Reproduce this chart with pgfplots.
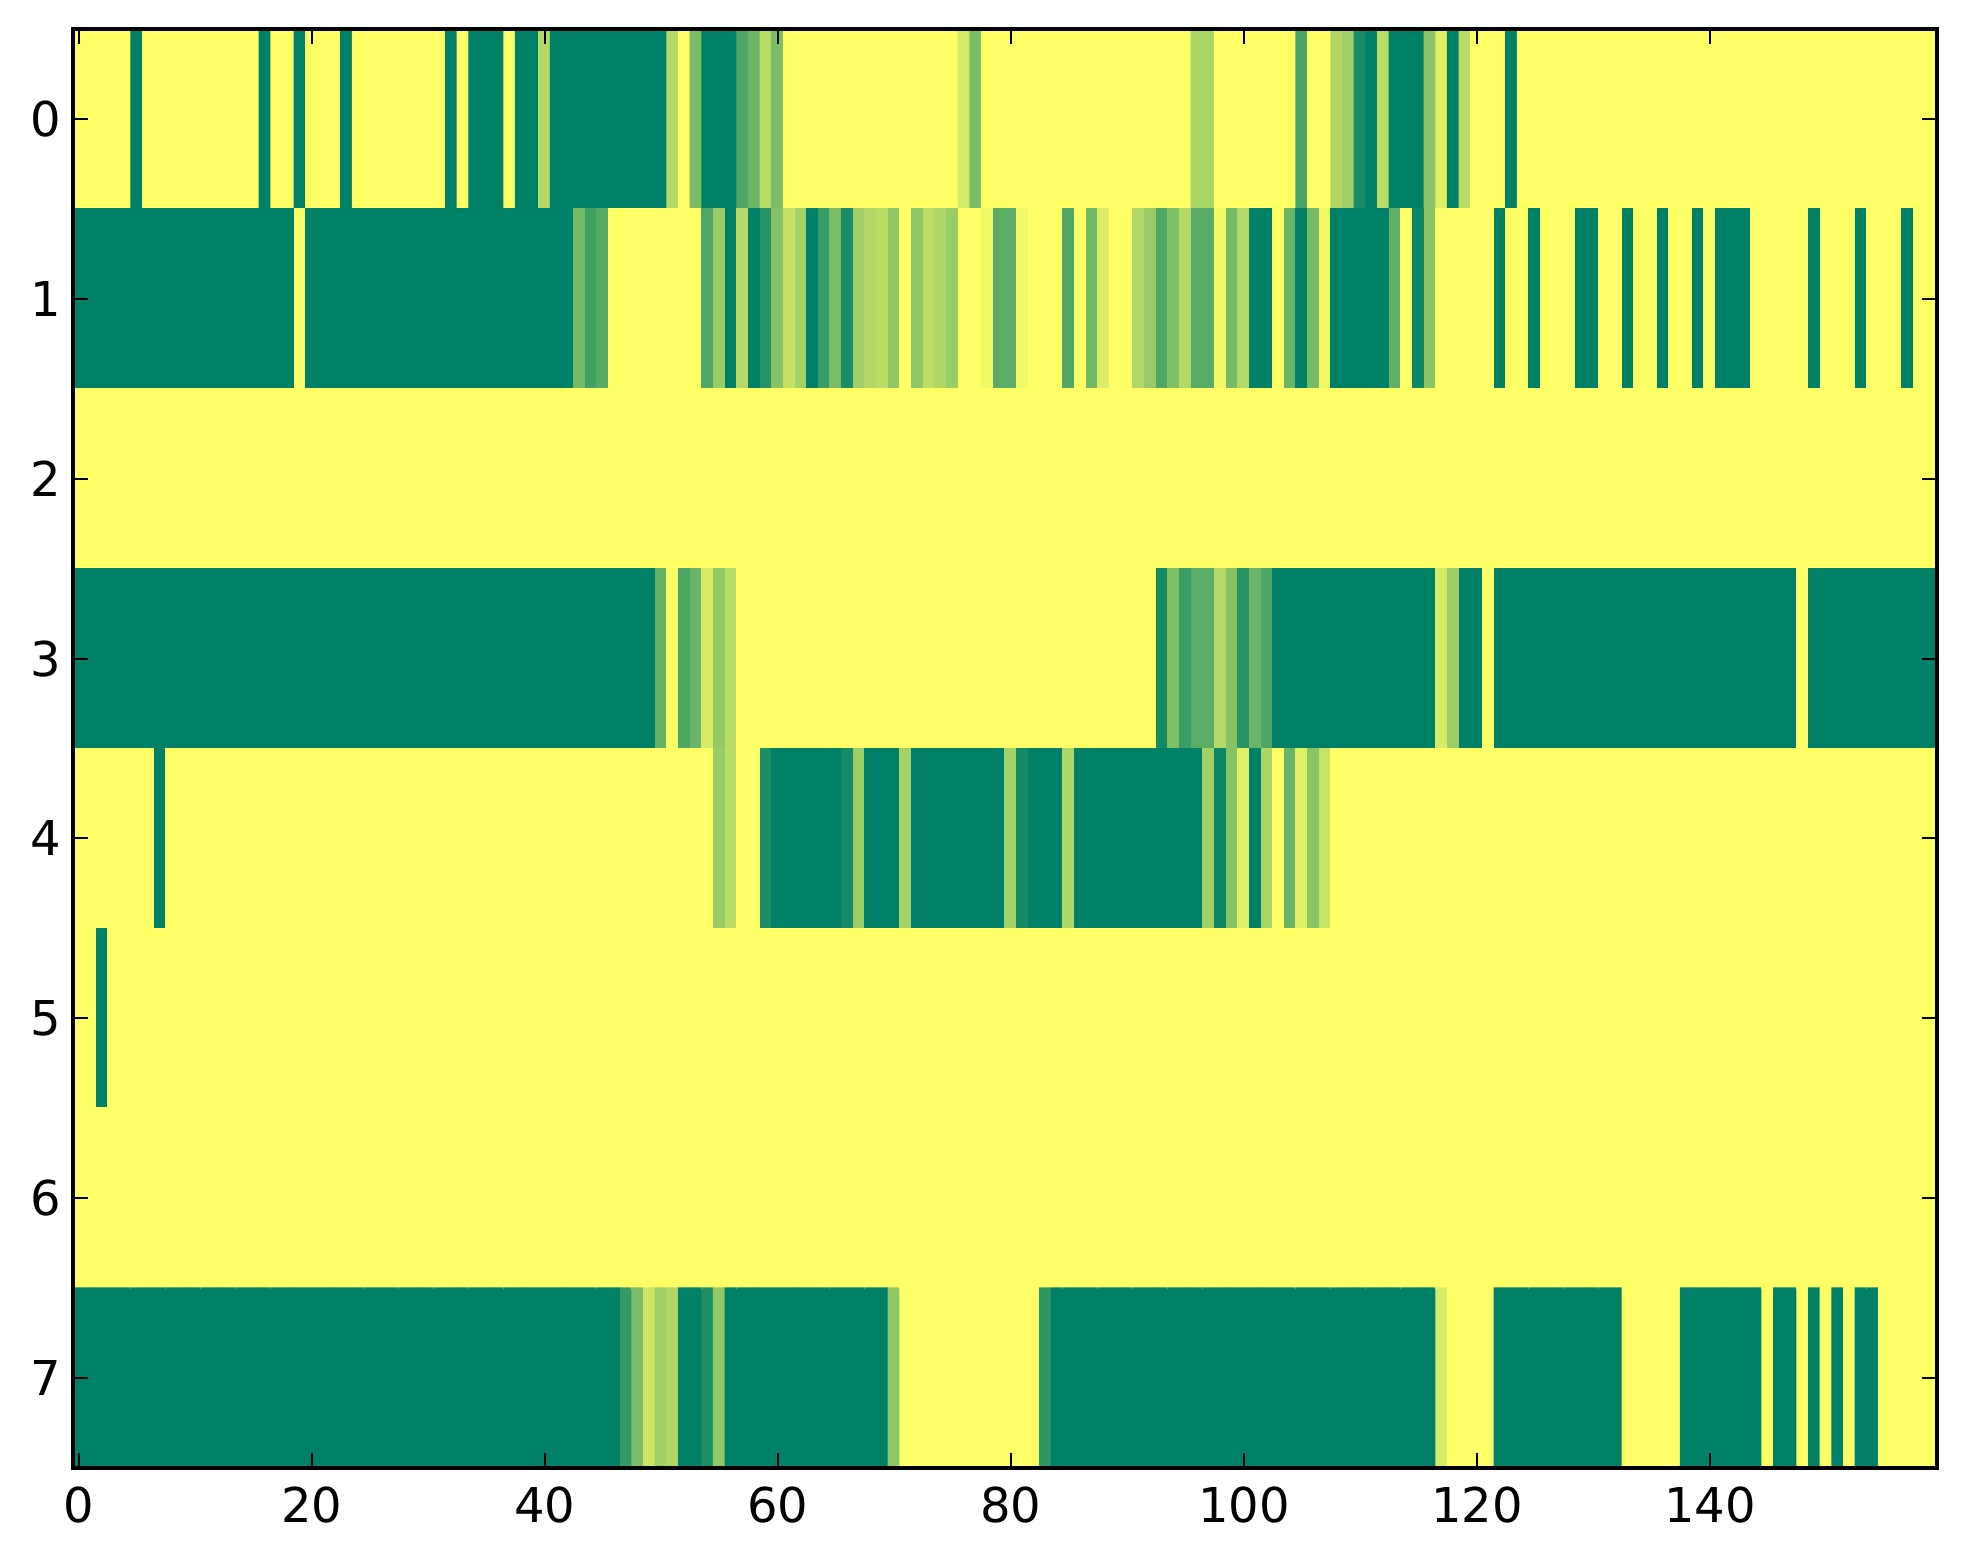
\documentclass[border=0pt]{standalone}
\usepackage{fontspec}
\setmainfont{DejaVu Sans}
\usepackage{pgfplots}
\pgfplotsset{compat=1.18}
\begin{document}
\begin{tikzpicture}
\begin{axis}[
 scale only axis, width=466pt, height=359.75pt,
 xmin=-0.5, xmax=159.5, ymin=-0.5, ymax=7.5, y dir=reverse,
 enlargelimits=false, axis on top,
 xtick={0,20,...,140}, ytick={0,...,7},
 tick pos=both, tick align=inside, major tick length=3.75pt,
 every tick/.style={black, line width=0.5pt},
 axis line style={line width=0.9pt},
 tick label style={font=\fontsize{12}{14}\selectfont},
 yticklabel style={xshift=0.6pt},
 xticklabel style={yshift=-1.3pt},
 /pgf/number format/assume math mode=true,
 colormap={summer}{rgb=(0,0.5,0.4) rgb=(1,1,0.4)},
 point meta min=0, point meta max=1,
]
\addplot[matrix plot*, mesh/cols=160, mesh/rows=8, point meta=explicit] table[row sep=\\,
  x expr={\coordindex-160*floor((\coordindex+0.5)/160)},
  y expr={floor((\coordindex+0.5)/160)}, meta=c] {
c\\
1\\1\\1\\1\\1\\ 0\\1\\1\\1\\1\\ 1\\1\\1\\1\\1\\ 1\\0\\1\\1\\0\\
1\\1\\1\\0\\1\\ 1\\1\\1\\1\\1\\ 1\\1\\0\\1\\0\\ 0\\0\\1\\0\\0\\
0.7\\0\\0\\0\\0\\ 0\\0\\0\\0\\0\\ 0\\0.7\\1\\0.47\\0\\ 0\\0\\0.3\\0.42\\0.72\\
0.48\\1\\1\\1\\1\\ 1\\1\\1\\1\\1\\ 1\\1\\1\\1\\1\\ 1\\0.83\\0.48\\1\\1\\
1\\1\\1\\1\\1\\ 1\\1\\1\\1\\1\\ 1\\1\\1\\1\\1\\ 1\\0.66\\0.66\\1\\1\\
1\\1\\1\\1\\1\\ 0.29\\1\\1\\0.69\\0.62\\ 0.09\\0\\0.72\\0\\0\\ 0\\0.54\\0.88\\0\\0.72\\
1\\1\\1\\0\\1\\ 1\\1\\1\\1\\1\\ 1\\1\\1\\1\\1\\ 1\\1\\1\\1\\1\\
1\\1\\1\\1\\1\\ 1\\1\\1\\1\\1\\ 1\\1\\1\\1\\1\\ 1\\1\\1\\1\\1\\
0\\0\\0\\0\\0\\ 0\\0\\0\\0\\0\\ 0\\0\\0\\0\\0\\ 0\\0\\0\\0\\1\\
0\\0\\0\\0\\0\\ 0\\0\\0\\0\\0\\ 0\\0\\0\\0\\0\\ 0\\0\\0\\0\\0\\
0\\0\\0\\0.45\\0.25\\ 0.33\\1\\1\\1\\1\\ 1\\1\\1\\1\\0.31\\ 0.6\\0\\0.7\\0\\0.15\\
0.53\\0.77\\0.64\\0\\0.22\\ 0.48\\0.1\\0.62\\0.69\\0.73\\ 0.56\\1\\0.56\\0.73\\0.68\\ 0.6\\1\\1\\0.94\\0.35\\
0.35\\0.94\\1\\1\\1\\ 0.31\\1\\0.44\\0.86\\1\\ 1\\0.69\\0.59\\0.3\\0.5\\ 0.7\\0.34\\0.34\\0.95\\0.46\\
0.7\\0\\0\\1\\0.41\\ 0\\0.46\\0.94\\0\\0\\ 0\\0\\0\\0.37\\1\\ 0.05\\0.54\\1\\1\\1\\
1\\1\\0\\1\\1\\ 0\\1\\1\\1\\0\\ 0\\1\\1\\0\\1\\ 1\\0\\1\\1\\0\\
1\\0\\0\\0\\1\\ 1\\1\\1\\1\\0\\ 1\\1\\1\\0\\1\\ 1\\1\\0\\1\\1\\
1\\1\\1\\1\\1\\ 1\\1\\1\\1\\1\\ 1\\1\\1\\1\\1\\ 1\\1\\1\\1\\1\\
1\\1\\1\\1\\1\\ 1\\1\\1\\1\\1\\ 1\\1\\1\\1\\1\\ 1\\1\\1\\1\\1\\
1\\1\\1\\1\\1\\ 1\\1\\1\\1\\1\\ 1\\1\\1\\1\\1\\ 1\\1\\1\\1\\1\\
1\\1\\1\\1\\1\\ 1\\1\\1\\1\\1\\ 1\\1\\1\\1\\1\\ 1\\1\\1\\1\\1\\
1\\1\\1\\1\\1\\ 1\\1\\1\\1\\1\\ 1\\1\\1\\1\\1\\ 1\\1\\1\\1\\1\\
1\\1\\1\\1\\1\\ 1\\1\\1\\1\\1\\ 1\\1\\1\\1\\1\\ 1\\1\\1\\1\\1\\
1\\1\\1\\1\\1\\ 1\\1\\1\\1\\1\\ 1\\1\\1\\1\\1\\ 1\\1\\1\\1\\1\\
1\\1\\1\\1\\1\\ 1\\1\\1\\1\\1\\ 1\\1\\1\\1\\1\\ 1\\1\\1\\1\\1\\
0\\0\\0\\0\\0\\ 0\\0\\0\\0\\0\\ 0\\0\\0\\0\\0\\ 0\\0\\0\\0\\0\\
0\\0\\0\\0\\0\\ 0\\0\\0\\0\\0\\ 0\\0\\0\\0\\0\\ 0\\0\\0\\0\\0\\
0\\0\\0\\0\\0\\ 0\\0\\0\\0\\0\\ 0.39\\1\\0.3\\0.42\\0.84\\ 0.57\\0.71\\1\\1\\1\\
1\\1\\1\\1\\1\\ 1\\1\\1\\1\\1\\ 1\\1\\1\\1\\1\\ 1\\1\\1\\1\\1\\
1\\1\\1\\1\\1\\ 1\\1\\1\\1\\1\\ 1\\1\\1\\0.08\\0.5\\ 0.23\\0.35\\0.35\\0.7\\0.53\\
0.16\\0.41\\0.3\\0\\0\\ 0\\0\\0\\0\\0\\ 0\\0\\0\\0\\0\\ 0\\0\\0.84\\0.6\\0\\
0\\1\\0\\0\\0\\ 0\\0\\0\\0\\0\\ 0\\0\\0\\0\\0\\ 0\\0\\0\\0\\0\\
0\\0\\0\\0\\0\\ 0\\0\\0\\1\\0\\ 0\\0\\0\\0\\0\\ 0\\0\\0\\0\\0\\
1\\1\\1\\1\\1\\ 1\\1\\0\\1\\1\\ 1\\1\\1\\1\\1\\ 1\\1\\1\\1\\1\\
1\\1\\1\\1\\1\\ 1\\1\\1\\1\\1\\ 1\\1\\1\\1\\1\\ 1\\1\\1\\1\\1\\
1\\1\\1\\1\\1\\ 1\\1\\1\\1\\1\\ 1\\1\\1\\1\\1\\ 0.59\\0.72\\1\\1\\0.11\\
0\\0\\0\\0\\0\\ 0\\0.08\\0.61\\0\\0\\ 0\\0.64\\0\\0\\0\\ 0\\0\\0\\0\\0\\
0.64\\0.08\\0\\0\\0\\ 0.68\\0\\0\\0\\0\\ 0\\0\\0\\0\\0\\ 0\\0\\0.63\\0.04\\0.52\\
0.87\\0\\0.66\\1\\0.41\\ 0.87\\0.54\\0.78\\1\\1\\ 1\\1\\1\\1\\1\\ 1\\1\\1\\1\\1\\
1\\1\\1\\1\\1\\ 1\\1\\1\\1\\1\\ 1\\1\\1\\1\\1\\ 1\\1\\1\\1\\1\\
1\\1\\1\\1\\1\\ 1\\1\\1\\1\\1\\ 1\\1\\1\\1\\1\\ 1\\1\\1\\1\\1\\
1\\1\\0\\1\\1\\ 1\\1\\1\\1\\1\\ 1\\1\\1\\1\\1\\ 1\\1\\1\\1\\1\\
1\\1\\1\\1\\1\\ 1\\1\\1\\1\\1\\ 1\\1\\1\\1\\1\\ 1\\1\\1\\1\\1\\
1\\1\\1\\1\\1\\ 1\\1\\1\\1\\1\\ 1\\1\\1\\1\\1\\ 1\\1\\1\\1\\1\\
1\\1\\1\\1\\1\\ 1\\1\\1\\1\\1\\ 1\\1\\1\\1\\1\\ 1\\1\\1\\1\\1\\
1\\1\\1\\1\\1\\ 1\\1\\1\\1\\1\\ 1\\1\\1\\1\\1\\ 1\\1\\1\\1\\1\\
1\\1\\1\\1\\1\\ 1\\1\\1\\1\\1\\ 1\\1\\1\\1\\1\\ 1\\1\\1\\1\\1\\
1\\1\\1\\1\\1\\ 1\\1\\1\\1\\1\\ 1\\1\\1\\1\\1\\ 1\\1\\1\\1\\1\\
1\\1\\1\\1\\1\\ 1\\1\\1\\1\\1\\ 1\\1\\1\\1\\1\\ 1\\1\\1\\1\\1\\
1\\1\\1\\1\\1\\ 1\\1\\1\\1\\1\\ 1\\1\\1\\1\\1\\ 1\\1\\1\\1\\1\\
1\\1\\1\\1\\1\\ 1\\1\\1\\1\\1\\ 1\\1\\1\\1\\1\\ 1\\1\\1\\1\\1\\
1\\1\\1\\1\\1\\ 1\\1\\1\\1\\1\\ 1\\1\\1\\1\\1\\ 1\\1\\1\\1\\1\\
1\\1\\1\\1\\1\\ 1\\1\\1\\1\\1\\ 1\\1\\1\\1\\1\\ 1\\1\\1\\1\\1\\
1\\1\\1\\1\\1\\ 1\\1\\1\\1\\1\\ 1\\1\\1\\1\\1\\ 1\\1\\1\\1\\1\\
1\\1\\1\\1\\1\\ 1\\1\\1\\1\\1\\ 1\\1\\1\\1\\1\\ 1\\1\\1\\1\\1\\
1\\1\\1\\1\\1\\ 1\\1\\1\\1\\1\\ 1\\1\\1\\1\\1\\ 1\\1\\1\\1\\1\\
1\\1\\1\\1\\1\\ 1\\1\\1\\1\\1\\ 1\\1\\1\\1\\1\\ 1\\1\\1\\1\\1\\
0\\0\\0\\0\\0\\ 0\\0\\0\\0\\0\\ 0\\0\\0\\0\\0\\ 0\\0\\0\\0\\0\\
0\\0\\0\\0\\0\\ 0\\0\\0\\0\\0\\ 0\\0\\0\\0\\0\\ 0\\0\\0\\0\\0\\
0\\0\\0\\0\\0\\ 0\\0\\0.2\\0.48\\0.8\\ 0.62\\0.68\\0\\0\\0.12\\ 0.57\\0\\0\\0\\0\\
0\\0\\0\\0\\0\\ 0\\0\\0\\0\\0\\ 0.56\\1\\1\\1\\1\\ 1\\1\\1\\1\\1\\
1\\1\\1\\0.18\\0\\ 0\\0\\0\\0\\0\\ 0\\0\\0\\0\\0\\ 0\\0\\0\\0\\0\\
0\\0\\0\\0\\0\\ 0\\0\\0\\0\\0\\ 0\\0\\0\\0\\0\\ 0\\0\\0.84\\1\\1\\
1\\1\\0\\0\\0\\ 0\\0\\0\\0\\0\\ 0\\0\\0\\1\\1\\ 1\\1\\1\\0\\0\\
0\\0\\0\\0\\0\\ 1\\0\\0\\1\\0\\ 1\\0\\1\\0\\0\\ 1\\1\\1\\1\\1\\
};
\end{axis}
\path ([xshift=-18.25pt,yshift=-24pt]current axis.south west) rectangle ([xshift=6.5pt,yshift=7.25pt]current axis.north east);
\end{tikzpicture}
\end{document}
